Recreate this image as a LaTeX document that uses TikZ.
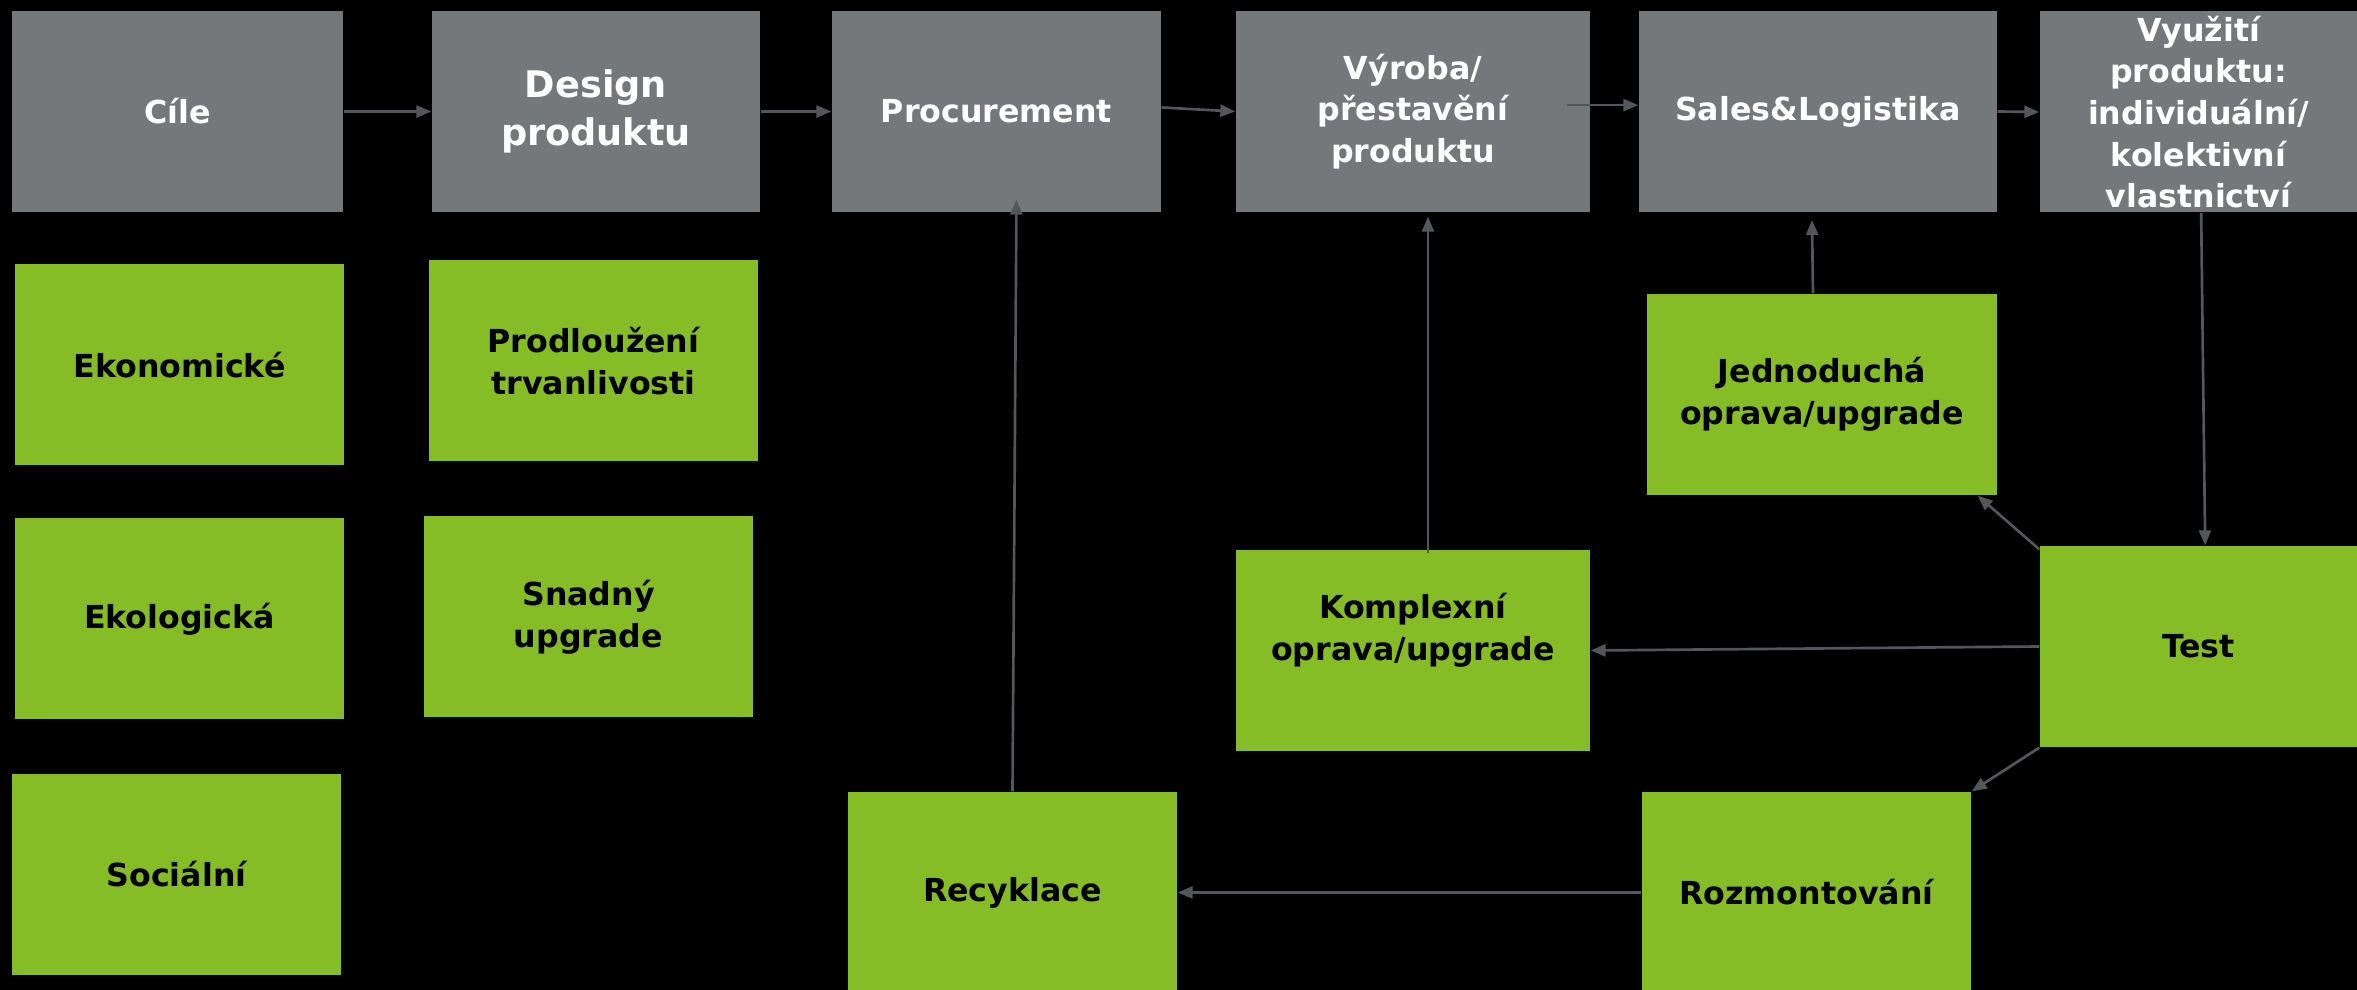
\documentclass[tikz,border=0pt]{standalone}
\usepackage{fontspec}
\setmainfont{DejaVu Sans}
\usetikzlibrary{arrows.meta}
\definecolor{boxgrey}{HTML}{75787B}
\definecolor{boxgreen}{HTML}{86BC25}
\definecolor{linegrey}{HTML}{53565A}
\newcommand{\pxu}{0.3pt}

\begin{document}
\begin{tikzpicture}[x=0.3pt, y=-0.3pt,
  stage/.style={fill=boxgrey, text=white, font=\bfseries\fontsize{9.5}{12.5}\selectfont, align=center, inner sep=0pt, minimum height=201*\pxu},
  option/.style={fill=boxgreen, text=black, font=\bfseries\fontsize{9.5}{12.6}\selectfont, align=center, inner sep=0pt, minimum height=201*\pxu},
  flow/.style={draw=linegrey, line width=0.8pt, -{Triangle[length=4.5pt,width=3.6pt]}}]
\clip (0,0) rectangle (2357,990);
\fill[black] (0,0) rectangle (2357,990);

% hlavni retezec
\node[stage, minimum width=331*\pxu] (cile) at (177.5,111.5) {C\'ile};
\node[stage, minimum width=328*\pxu, font=\bfseries\fontsize{11}{14.4}\selectfont] (design) at (596,111.5) {Design\\produktu};
\node[stage, minimum width=329*\pxu] (procure) at (996.5,111.5) {Procurement};
\node[stage, minimum width=354*\pxu] (vyroba) at (1413,111.5) {Výroba/\\přestavění\\produktu};
\node[stage, minimum width=358*\pxu] (sales) at (1818,111.5) {Sales\&Logistika};
\node[stage, minimum width=317*\pxu] (vyuziti) at (2198.5,112) {Využití\\produktu:\\individuální/\\kolektivní\\vlastnictví};

% cile a design
\node[option, minimum width=329*\pxu] (ekon) at (179.5,365) {Ekonomické};
\node[option, minimum width=329*\pxu] (ekol) at (179.5,619) {Ekologická};
\node[option, minimum width=329*\pxu] (soc) at (176.5,874.5) {Sociální};
\node[option, minimum width=329*\pxu] (prodl) at (593.5,361) {Prodloužení\\trvanlivosti};
\node[option, minimum width=329*\pxu] (snadny) at (588.5,617) {Snadný\\upgrade};

% zpetne smycky
\node[option, minimum width=350*\pxu] (jedno) at (1822,394.5) {Jednoduchá\\oprava/upgrade};
\node[option, minimum width=354*\pxu] (komplex) at (1413,650.5) {};
\node[text=black, font=\bfseries\fontsize{9.5}{12.6}\selectfont, align=center] (komplexT) at (1413,630) {Komplexní\\oprava/upgrade};
\node[option, minimum width=317*\pxu] (test) at (2198.5,646.5) {Test};
\node[option, minimum width=329*\pxu] (recykl) at (1012.5,892.5) {Recyklace};
\node[option, minimum width=329*\pxu] (rozmont) at (1806.5,892.5) {Rozmontování};

\draw[flow] (cile.east) -- (design.west);
\draw[flow] (design.east) -- (procure.west);
\draw[flow] ([yshift=1.2pt]procure.east) -- (vyroba.west);
\draw[flow] ([xshift=-7.2pt,yshift=1.9pt]vyroba.east) -- ([yshift=1.9pt]sales.west);
\draw[flow] (sales.east) -- (vyuziti.west);
\draw[flow] ([xshift=0.8pt]vyuziti.south) -- ([xshift=2pt]test.north);
\draw[flow] ([yshift=-1.2pt]test.north west) -- ([xshift=-6pt]jedno.south east);
\draw[flow] (test.west) -- (komplex.east);
\draw[flow] ([xshift=-2.7pt]jedno.north) -- ([xshift=-1.8pt,yshift=-2.2pt]sales.south);
\draw[flow] ([xshift=4.5pt,yshift=-1.2pt]komplex.north) -- ([xshift=4.5pt,yshift=-1.2pt]vyroba.south);
\draw[flow] (recykl.north) -- ([xshift=6pt,yshift=3.9pt]procure.south);
\draw[flow] (rozmont.west) -- (recykl.east);
\draw[flow] (test.south west) -- (rozmont.north east);
\end{tikzpicture}
\end{document}
